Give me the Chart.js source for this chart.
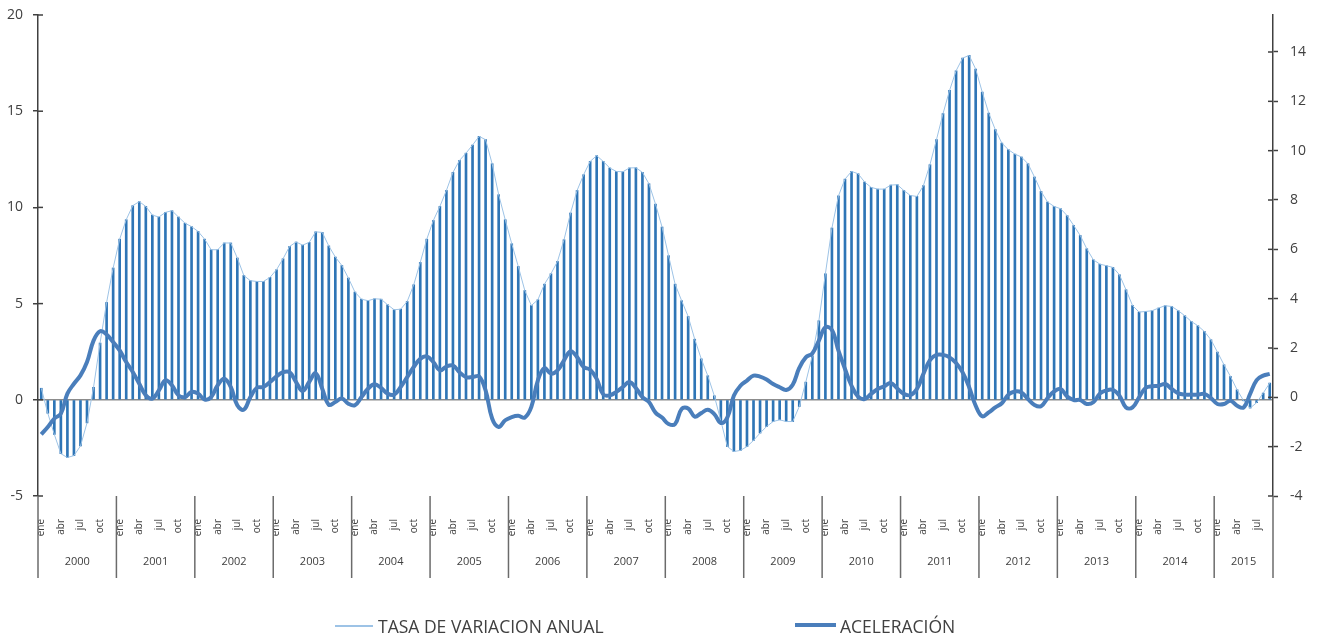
<!DOCTYPE html>
<html>
<head>
<meta charset="utf-8">
<script src="https://cdn.jsdelivr.net/npm/chart.js@4.4.1/dist/chart.umd.min.js"></script>
<style>
  body { margin: 0; background: #fff; }
  #wrap { position: relative; width: 1322px; height: 637px; font-family: "Open Sans", sans-serif; }
  #chart { display: block; }
  .leg { position: absolute; top: 616px; font-size: 17.5px; line-height: 20px; color: #404040; white-space: nowrap; }
  .swatch { position: absolute; }
</style>
</head>
<body>
<div id="wrap">
  <canvas id="chart" width="1322" height="637"></canvas>
  <div class="swatch" style="left:335px; top:625px; width:38px; height:1.5px; background:#9dc3e6"></div>
  <div class="leg" style="left:378px">TASA DE VARIACION ANUAL</div>
  <div class="swatch" style="left:795px; top:623px; width:41px; height:4px; background:#4a7ebb"></div>
  <div class="leg" style="left:840px">ACELERACIÓN</div>
</div>
<script>
const monthNames = ["ene", "feb", "mar", "abr", "may", "jun", "jul", "ago", "sep", "oct", "nov", "dic"];
const years = [2000, 2001, 2002, 2003, 2004, 2005, 2006, 2007, 2008, 2009, 2010, 2011, 2012, 2013, 2014, 2015];

// monthly, ene 2000 - sep 2015 (left axis)
const tasaVariacion = [
  0.6, -0.7, -1.8, -2.8, -3.0, -2.9, -2.4, -1.2, 0.65, 2.95, 5.06, 6.85,
  8.35, 9.36, 10.09, 10.3, 10.05, 9.6, 9.5, 9.74, 9.83, 9.5, 9.18, 9.0,
  8.75, 8.35, 7.8, 7.8, 8.15, 8.15, 7.37, 6.46, 6.19, 6.15, 6.15, 6.36,
  6.76, 7.33, 7.97, 8.2, 8.04, 8.18, 8.73, 8.7, 8.0, 7.42, 6.98, 6.33,
  5.6, 5.23, 5.15, 5.25, 5.23, 4.94, 4.68, 4.71, 5.11, 5.98, 7.14, 8.35,
  9.32, 10.05, 10.88, 11.82, 12.44, 12.82, 13.24, 13.69, 13.52, 12.27, 10.66, 9.36,
  8.11, 6.93, 5.68, 4.9, 5.2, 6.01, 6.55, 7.19, 8.32, 9.71, 10.88, 11.7,
  12.39, 12.69, 12.39, 12.05, 11.87, 11.85, 12.05, 12.06, 11.82, 11.23, 10.17, 8.98,
  7.49, 6.01, 5.15, 4.33, 3.15, 2.13, 1.25, 0.21, -1.1, -2.43, -2.69, -2.63,
  -2.43, -2.11, -1.73, -1.39, -1.13, -1.04, -1.13, -1.13, -0.35, 0.92, 2.29, 4.11,
  6.55, 8.93, 10.6, 11.47, 11.87, 11.75, 11.32, 11.04, 10.95, 10.95, 11.16, 11.18,
  10.88, 10.62, 10.57, 11.13, 12.22, 13.52, 14.87, 16.08, 17.1, 17.76, 17.9, 17.19,
  16.0, 14.9, 14.04, 13.34, 13.0, 12.77, 12.62, 12.27, 11.58, 10.83, 10.28, 10.05,
  9.93, 9.57, 9.06, 8.54, 7.85, 7.28, 7.05, 6.97, 6.88, 6.5, 5.72, 4.9,
  4.56, 4.59, 4.63, 4.77, 4.89, 4.85, 4.63, 4.37, 4.07, 3.85, 3.55, 3.12,
  2.48, 1.82, 1.21, 0.52, -0.05, -0.43, -0.15, 0.35, 0.87
];

// monthly, ene 2000 - sep 2015 (right axis)
const aceleracion = [
  -1.5, -1.2, -0.86, -0.66, 0.15, 0.55, 0.89, 1.43, 2.3, 2.68, 2.55, 2.24,
  1.9, 1.43, 1.03, 0.55, 0.08, -0.05, 0.28, 0.69, 0.49, 0.08, 0.01, 0.22,
  0.15, -0.09, 0.01, 0.49, 0.75, 0.42, -0.32, -0.5, 0.01, 0.39, 0.42, 0.62,
  0.85, 1.02, 1.02, 0.62, 0.26, 0.62, 0.98, 0.35, -0.3, -0.19, -0.05, -0.26,
  -0.32, 0.01, 0.35, 0.53, 0.38, 0.15, 0.11, 0.42, 0.82, 1.23, 1.56, 1.66,
  1.43, 1.09, 1.25, 1.29, 1.02, 0.82, 0.82, 0.85, 0.28, -0.86, -1.2, -0.93,
  -0.8, -0.75, -0.82, -0.39, 0.69, 1.19, 0.96, 1.09, 1.5, 1.87, 1.63, 1.23,
  1.12, 0.75, 0.12, 0.08, 0.22, 0.42, 0.62, 0.38, 0.01, -0.19, -0.62, -0.82,
  -1.08, -1.08, -0.47, -0.45, -0.78, -0.64, -0.5, -0.68, -1.04, -0.81, 0.07, 0.47,
  0.68, 0.88, 0.84, 0.72, 0.54, 0.41, 0.3, 0.51, 1.19, 1.62, 1.78, 2.3,
  2.84, 2.73, 1.89, 1.15, 0.47, 0.03, -0.07, 0.14, 0.34, 0.45, 0.58, 0.36,
  0.14, 0.09, 0.34, 0.95, 1.51, 1.72, 1.72, 1.62, 1.39, 1.01, 0.41, -0.34,
  -0.77, -0.61, -0.41, -0.24, 0.11, 0.24, 0.2, -0.07, -0.31, -0.36, -0.03, 0.24,
  0.34, 0.03, -0.11, -0.11, -0.27, -0.2, 0.15, 0.28, 0.3, 0.07, -0.41, -0.41,
  0, 0.38, 0.45, 0.47, 0.54, 0.34, 0.16, 0.11, 0.11, 0.11, 0.14, -0.03,
  -0.27, -0.27, -0.14, -0.34, -0.41, 0.14, 0.7, 0.88, 0.95
];

const labels = [];
years.forEach((y) => {
  monthNames.forEach((m) => {
    if (labels.length < tasaVariacion.length) labels.push(m + " " + y);
  });
});

Chart.defaults.font.family = "'Open Sans', sans-serif";
Chart.defaults.color = "#404040";

// year row, group separators and inner half of the cross ticks
const yearAxis = {
  id: "yearAxis",
  afterDraw(chart) {
    const { ctx, chartArea, scales } = chart;
    const xs = scales.x;
    const w = (xs.right - xs.left) / labels.length;
    ctx.save();
    ctx.strokeStyle = "#404040";
    ctx.lineWidth = 1.5;
    scales.y.ticks.forEach((t) => {
      const py = scales.y.getPixelForValue(t.value);
      ctx.beginPath();
      ctx.moveTo(chartArea.left, py);
      ctx.lineTo(chartArea.left + 5, py);
      ctx.stroke();
    });
    scales.y1.ticks.forEach((t) => {
      const py = scales.y1.getPixelForValue(t.value);
      ctx.beginPath();
      ctx.moveTo(chartArea.right - 5, py);
      ctx.lineTo(chartArea.right, py);
      ctx.stroke();
    });

    ctx.strokeStyle = "#6b6b6b";
    for (let k = 0; k <= years.length; k++) {
      const x = xs.left + Math.min(k * 12, labels.length) * w;
      ctx.beginPath();
      ctx.moveTo(x, chartArea.bottom);
      ctx.lineTo(x, 578);
      ctx.stroke();
    }

    ctx.font = "11px 'Open Sans'";
    ctx.fillStyle = "#404040";
    ctx.textAlign = "center";
    ctx.textBaseline = "middle";
    years.forEach((y, k) => {
      const start = k * 12;
      const end = Math.min(start + 12, labels.length);
      ctx.fillText(String(y), xs.left + ((start + end) / 2) * w, 562);
    });
    ctx.restore();
  },
};

const noEdgePadding = (scale) => {
  scale.paddingTop = 0;
  scale.paddingBottom = 0;
};

new Chart(document.getElementById("chart"), {
  type: "bar",
  data: {
    labels: labels,
    datasets: [
      {
        type: "line",
        label: "ACELERACIÓN",
        data: aceleracion,
        yAxisID: "y1",
        borderColor: "#4a7ebb",
        borderWidth: 4,
        pointRadius: 0,
        tension: 0.4,
        order: 0,
      },
      {
        type: "line",
        label: "TASA DE VARIACION ANUAL",
        data: tasaVariacion,
        yAxisID: "y",
        borderColor: "#9dc3e6",
        borderWidth: 1,
        pointRadius: 0,
        tension: 0,
        order: 1,
      },
      {
        type: "bar",
        label: "tasa",
        data: tasaVariacion,
        yAxisID: "y",
        backgroundColor: "#2e75b6",
        barThickness: 2,
        order: 2,
      },
    ],
  },
  options: {
    responsive: false,
    animation: false,
    layout: { padding: { top: 15, left: 0, right: 0, bottom: 0 }, autoPadding: false },
    plugins: {
      legend: { display: false },
      tooltip: { enabled: false },
    },
    scales: {
      x: {
        offset: true,
        grid: { display: false, offset: true },
        border: { display: false },
        ticks: {
          autoSkip: false,
          minRotation: 90,
          maxRotation: 90,
          padding: 15,
          font: { size: 10 },
          color: "#404040",
          callback: (v, i) => (i % 3 === 0 ? labels[i].split(" ")[0] : ""),
        },
        afterFit: (scale) => {
          scale.height = 141;
          scale.paddingLeft = 0;
          scale.paddingRight = 0;
        },
      },
      y: {
        position: "left",
        min: -5,
        max: 20,
        ticks: { stepSize: 5, padding: 10, font: { size: 14 }, color: "#404040" },
        grid: {
          color: (c) => (c.tick && c.tick.value === 0 ? "#8c8c8c" : "rgba(0,0,0,0)"),
          lineWidth: 1.5,
          tickLength: 5,
          tickColor: "#404040",
          tickWidth: 1.5,
        },
        border: { color: "#404040", width: 1.5 },
        afterFit: (scale) => {
          scale.width = 38;
          noEdgePadding(scale);
        },
      },
      y1: {
        position: "right",
        min: -4,
        max: 15.5,
        ticks: { stepSize: 2, includeBounds: false, padding: 12, font: { size: 14 }, color: "#404040" },
        grid: {
          drawOnChartArea: false,
          tickLength: 5,
          tickColor: "#404040",
          tickWidth: 1.5,
        },
        border: { color: "#404040", width: 1.5 },
        afterFit: (scale) => {
          scale.width = 49;
          noEdgePadding(scale);
        },
      },
    },
  },
  plugins: [yearAxis],
});
</script>
</body>
</html>
